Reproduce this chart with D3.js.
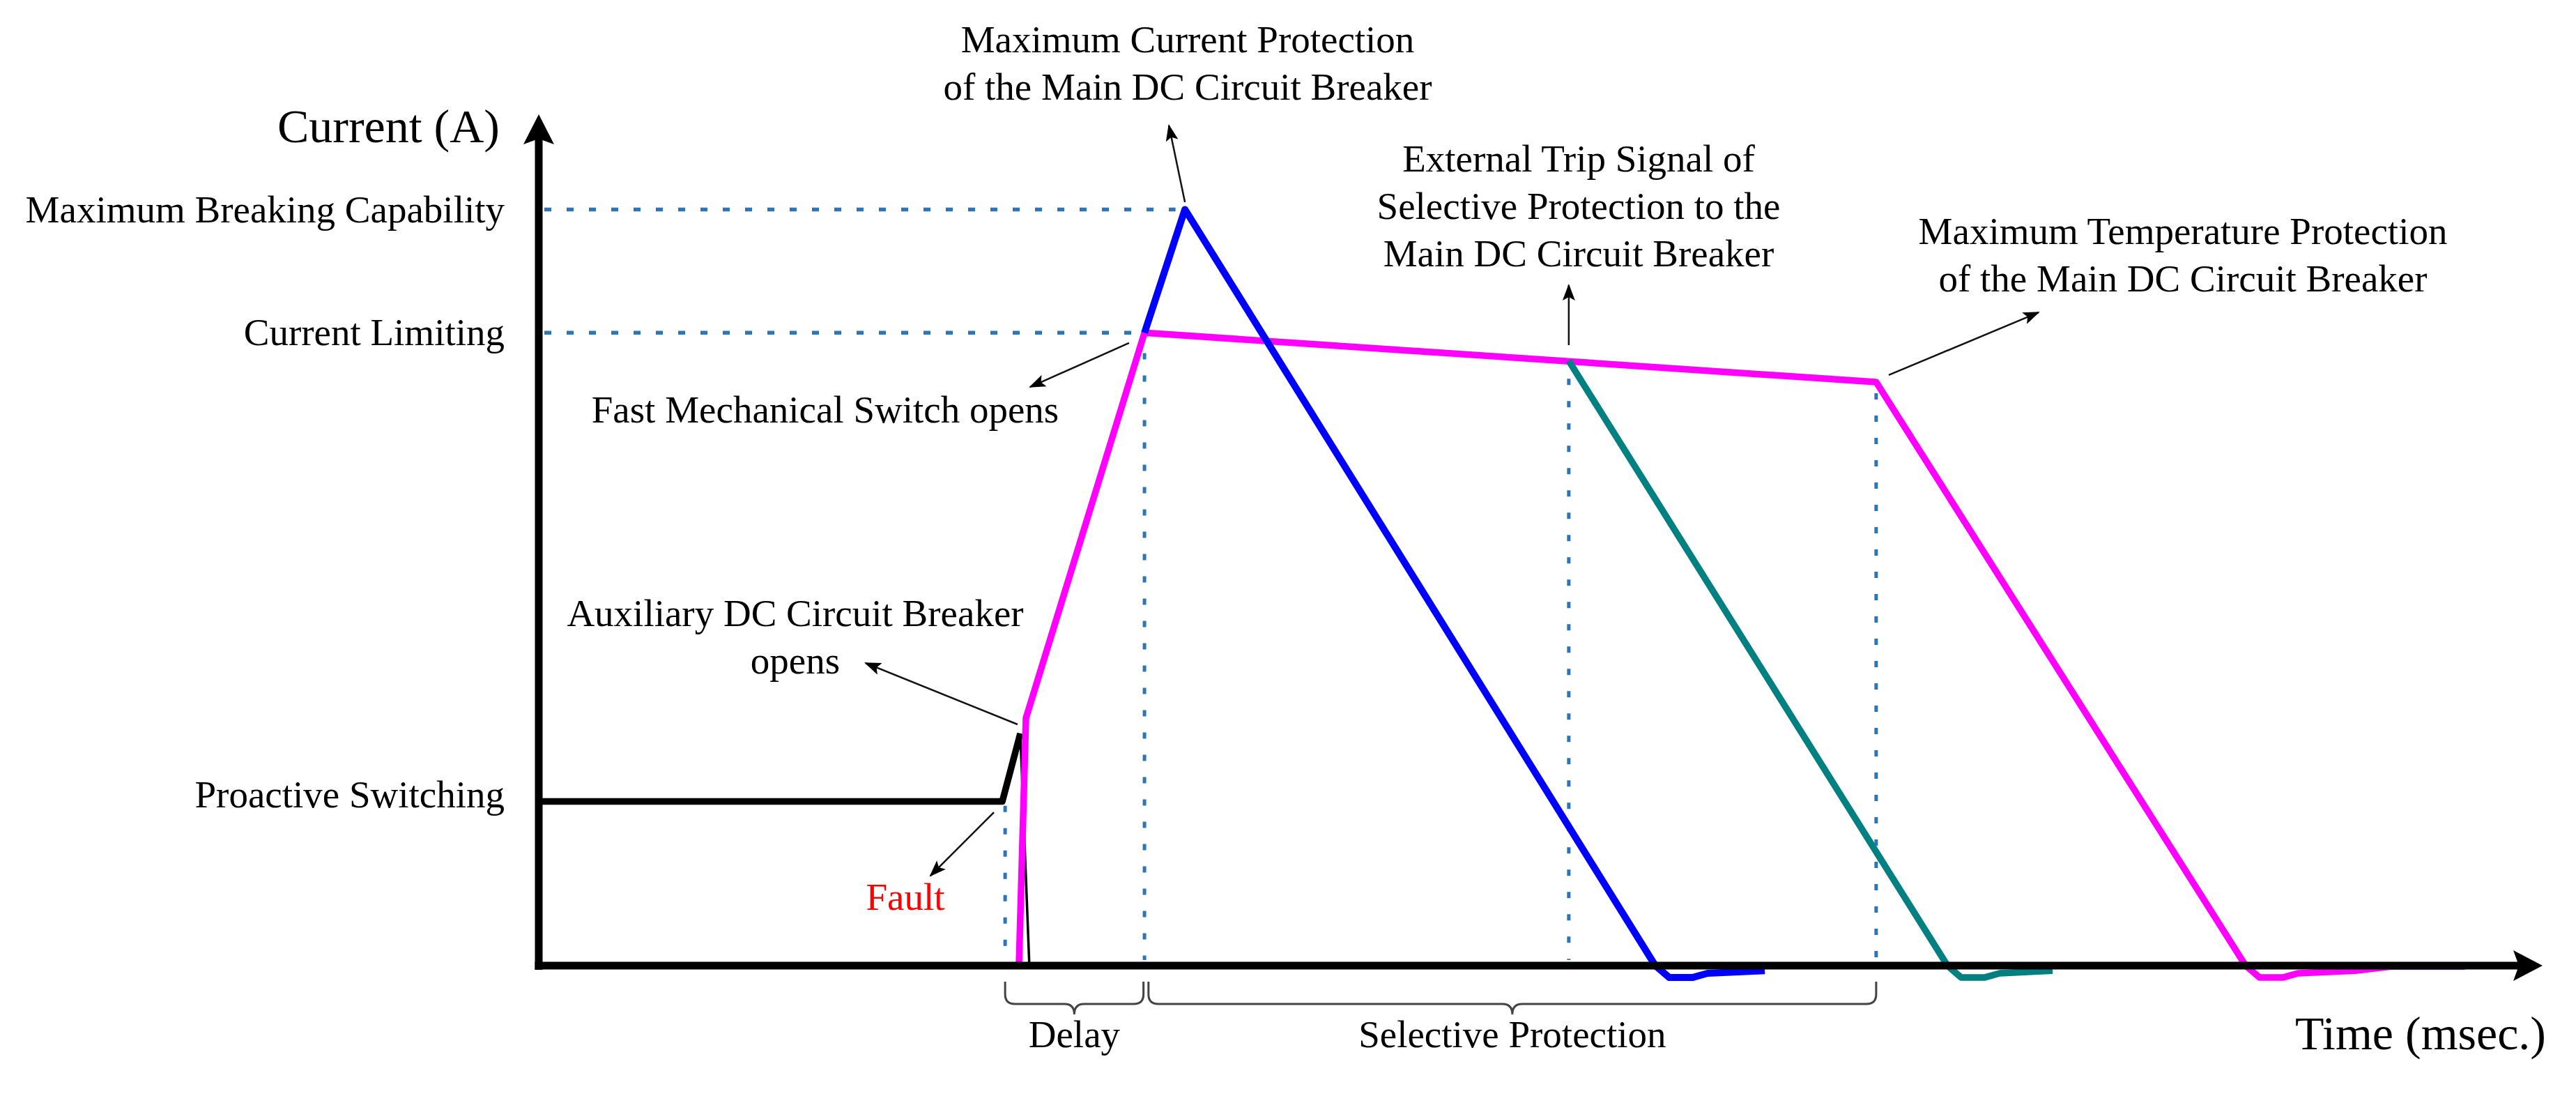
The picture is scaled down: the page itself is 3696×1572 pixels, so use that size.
<!DOCTYPE html>
<html>
<head>
<meta charset="utf-8">
<script src="https://cdn.jsdelivr.net/npm/d3@7"></script>
<style>
  html, body { margin: 0; padding: 0; background: #ffffff; }
  svg { display: block; }
  text { font-family: "Liberation Serif", "DejaVu Serif", serif; fill: #000; }
</style>
</head>
<body>
<svg id="chart" width="3696" height="1572"></svg>
<script>
// ---------------- DATA (time in arbitrary msec units, current in % of axis) ----------------
const levelLabels = ["Maximum Breaking Capability", "Current Limiting", "Proactive Switching"];
const levelValues = [88.9, 74.4, 19.3];

// Black: normal / proactive switching current
const proactiveCurrent = [[0, 19.3], [23.15, 19.3], [24.05, 27.3]];
const proactiveDrop = [[24.05, 27.3], [24.5, 0]];
// Magenta: current limiting then maximum-temperature trip
const limitingCurrent = [[0, 0], [23.98, 0], [24.33, 29.1], [30.25, 74.4], [66.79, 68.6],
  [85.24, 0], [85.94, -1.4], [87.09, -1.4], [87.85, -0.9], [90.71, -0.6], [92.5, -0.1], [96.2, -0.1]];
// Blue: maximum current protection
const maxCurrentTrip = [[30.25, 74.4], [32.27, 88.9], [55.76, 0], [56.46, -1.4], [57.61, -1.4],
  [58.37, -0.9], [61.23, -0.6]];
// Teal: external trip signal of selective protection
const externalTrip = [[51.44, 71.1], [70.35, 0], [71.04, -1.4], [72.19, -1.4], [72.96, -0.9], [75.6, -0.6]];

// Event guide lines (vertical): time, top current
const eventTimes = [23.29, 30.25, 51.44, 66.79];
const eventTops = [18.8, 72.0, 69.0, 67.3];
// Horizontal guides: level, end time
const guideEnds = [31.8, 29.7];

// Interval braces
const intervalNames = ["Delay", "Selective Protection"];
const intervalStarts = [23.29, 30.45];
const intervalEnds = [30.2, 66.79];

// ---------------- LAYOUT ----------------
const svg = d3.select("#chart");
const x = d3.scaleLinear().domain([0, 100]).range([773, 3646]);
const y = d3.scaleLinear().domain([0, 100]).range([1385, 165]);
const line = d3.line().x(d => x(d[0])).y(d => y(d[1]));

const guideColor = "#2e75b6";

// Arrow marker for annotations
const defs = svg.append("defs");
defs.append("marker")
  .attr("id", "ah").attr("markerUnits", "userSpaceOnUse")
  .attr("viewBox", "0 0 24 18").attr("refX", 22).attr("refY", 9)
  .attr("markerWidth", 24).attr("markerHeight", 18).attr("orient", "auto")
  .append("path").attr("d", "M0,0 L24,9 L0,18 L5,9 Z").attr("fill", "#000");

// Horizontal dotted guides
svg.append("g").selectAll("line").data(guideEnds).join("line")
  .attr("x1", x(0) + 8).attr("x2", d => x(d))
  .attr("y1", (d, i) => y(levelValues[i])).attr("y2", (d, i) => y(levelValues[i]))
  .attr("stroke", guideColor).attr("stroke-width", 5.5)
  .attr("stroke-dasharray", "10,22");

// Vertical dotted guides
svg.append("g").selectAll("line").data(eventTimes).join("line")
  .attr("x1", d => x(d)).attr("x2", d => x(d))
  .attr("y1", (d, i) => y(eventTops[i])).attr("y2", y(0) - 8)
  .attr("stroke", guideColor).attr("stroke-width", 5)
  .attr("stroke-dasharray", "9,23");

// Curves
const curves = svg.append("g").attr("fill", "none").attr("stroke-linejoin", "round").attr("stroke-linecap", "butt");
curves.append("path").attr("d", line(proactiveCurrent)).attr("stroke", "#000").attr("stroke-width", 9.5);
curves.append("path").attr("d", line(proactiveDrop)).attr("stroke", "#000").attr("stroke-width", 3.5);
curves.append("path").attr("d", line(limitingCurrent)).attr("stroke", "#ff00ff").attr("stroke-width", 9.5);
curves.append("path").attr("d", line(maxCurrentTrip)).attr("stroke", "#0000ff").attr("stroke-width", 10);
curves.append("path").attr("d", line(externalTrip)).attr("stroke", "#008080").attr("stroke-width", 9.5);

// Axes (d3 axis for level labels)
const yAxis = d3.axisLeft(y).tickValues(levelValues)
  .tickFormat((d, i) => levelLabels[i]).tickSize(0).tickPadding(49);
const gy = svg.append("g").attr("transform", `translate(${x(0)},0)`).call(yAxis);
gy.select(".domain").remove();
gy.selectAll("text").style("font-family", '"Liberation Serif", serif').style("font-size", "55px").attr("fill", "#000");
gy.selectAll(".tick").filter(d => d === levelValues[2]).select("text").attr("dy", "0.14em");

// Axis lines with arrowheads
svg.append("line").attr("x1", x(0)).attr("x2", x(0)).attr("y1", y(0) + 6).attr("y2", y(100) + 30)
  .attr("stroke", "#000").attr("stroke-width", 11);
svg.append("line").attr("x1", x(0) - 5.5).attr("x2", x(100) - 32).attr("y1", y(0)).attr("y2", y(0))
  .attr("stroke", "#000").attr("stroke-width", 11);
svg.append("path")
  .attr("d", `M${x(0)},${y(100) - 1} L${x(0) + 22},${y(100) + 42} L${x(0)},${y(100) + 34} L${x(0) - 22},${y(100) + 42} Z`)
  .attr("fill", "#000");
svg.append("path")
  .attr("d", `M${x(100) + 2},${y(0)} L${x(100) - 40},${y(0) - 22} L${x(100) - 32},${y(0)} L${x(100) - 40},${y(0) + 22} Z`)
  .attr("fill", "#000");

// Axis titles
svg.append("text").attr("x", 717).attr("y", 204).attr("text-anchor", "end")
  .style("font-size", "68px").text("Current (A)");
svg.append("text").attr("x", 3653).attr("y", 1505).attr("text-anchor", "end")
  .style("font-size", "68px").text("Time (msec.)");

// Braces
const braceTop = y(0) + 23, braceLine = y(0) + 55, braceTip = y(0) + 70;
function bracePath(a, b) {
  const x1 = x(a), x2 = x(b), xm = (x1 + x2) / 2, r = 14;
  return `M${x1},${braceTop} L${x1},${braceLine - r} Q${x1},${braceLine} ${x1 + r},${braceLine}` +
    ` L${xm - r},${braceLine} Q${xm},${braceLine} ${xm},${braceTip}` +
    ` Q${xm},${braceLine} ${xm + r},${braceLine} L${x2 - r},${braceLine}` +
    ` Q${x2},${braceLine} ${x2},${braceLine - r} L${x2},${braceTop}`;
}
svg.append("g").selectAll("path").data(intervalNames).join("path")
  .attr("d", (d, i) => bracePath(intervalStarts[i], intervalEnds[i]))
  .attr("fill", "none").attr("stroke", "#444").attr("stroke-width", 3);
svg.append("g").selectAll("text").data(intervalNames).join("text")
  .attr("x", (d, i) => (x(intervalStarts[i]) + x(intervalEnds[i])) / 2)
  .attr("y", 1502).attr("text-anchor", "middle").style("font-size", "55px").text(d => d);

// Annotations: [from, to] in data coordinates
const annotations = [
  { from: [32.27, 89.75], to: [31.47, 98.77], lines: ["Maximum Current Protection", "of the Main DC Circuit Breaker"], tx: 1704, ty: 75 },
  { from: [51.44, 72.95], to: [51.44, 80.0], lines: ["External Trip Signal of", "Selective Protection to the", "Main DC Circuit Breaker"], tx: 2265, ty: 246 },
  { from: [29.48, 73.2], to: [24.54, 68.03], lines: ["Fast Mechanical Switch opens"], tx: 1184, ty: 606 },
  { from: [67.42, 69.43], to: [74.9, 76.8], lines: ["Maximum Temperature Protection", "of the Main DC Circuit Breaker"], tx: 3132, ty: 350 },
  { from: [23.91, 28.36], to: [16.32, 35.57], lines: ["Auxiliary DC Circuit Breaker", "opens"], tx: 1141, ty: 898 },
  { from: [22.73, 18.03], to: [19.56, 10.57], lines: ["Fault"], tx: 1299, ty: 1305, color: "#ff0000" }
];
const ann = svg.append("g");
annotations.forEach(a => {
  ann.append("line")
    .attr("x1", x(a.from[0])).attr("y1", y(a.from[1]))
    .attr("x2", x(a.to[0])).attr("y2", y(a.to[1]))
    .attr("stroke", "#111").attr("stroke-width", 2.5).attr("marker-end", "url(#ah)");
  const t = ann.append("text").attr("text-anchor", "middle").style("font-size", "55px")
    .attr("fill", a.color || "#000").style("fill", a.color || "#000");
  a.lines.forEach((l, i) => t.append("tspan").attr("x", a.tx).attr("y", a.ty + i * 68).text(l));
});
</script>
</body>
</html>
